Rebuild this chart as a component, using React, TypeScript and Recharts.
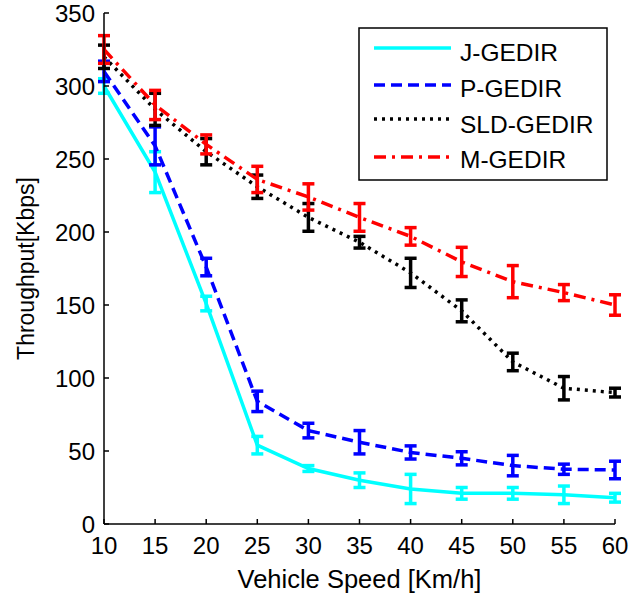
import React from 'react';
import { LineChart, Line, XAxis, YAxis, ErrorBar } from 'recharts';

const speeds = [10, 15, 20, 25, 30, 35, 40, 45, 50, 55, 60];
const jGedir = [300, 241, 151, 54, 38, 30, 24, 21, 21, 20, 18];
const jErr = [5, 14, 5, 6, 2, 5, 10, 4, 4, 6, 3];
const pGedir = [310, 259, 176, 84, 64, 56, 49, 45, 40, 37.5, 37];
const pErr = [7, 13, 6, 7, 5, 8, 4.5, 4.5, 7, 3.5, 6];
const sldGedir = [320, 284, 255, 231, 210, 193, 172, 146, 111, 93, 90];
const sldErr = [8, 11, 9, 8, 9.5, 4, 10, 7.5, 6, 8, 3];
const mGedir = [325, 287, 260, 236, 224, 210, 197, 179.5, 166, 158.5, 150];
const mErr = [9.5, 10, 6.5, 9, 9, 9.5, 6, 10, 11, 5.5, 7];

const xTicks = [10, 15, 20, 25, 30, 35, 40, 45, 50, 55, 60];
const yTicks = [0, 50, 100, 150, 200, 250, 300, 350];

const seriesNames = ['J-GEDIR', 'P-GEDIR', 'SLD-GEDIR', 'M-GEDIR'];
const seriesColors = ['#00ffff', '#0000ff', '#000000', '#ff0000'];
const seriesDash = ['', '11 6', '3 5', '12 6 3 6'];

const data = speeds.map((s, i) => ({
  speed: s,
  j: jGedir[i], jE: jErr[i],
  p: pGedir[i], pE: pErr[i],
  s: sldGedir[i], sE: sldErr[i],
  m: mGedir[i], mE: mErr[i],
}));

const keys = [['j', 'jE'], ['p', 'pE'], ['s', 'sE'], ['m', 'mE']];

const FONT = '"Liberation Sans", Arial, Helvetica, sans-serif';
const axisStyle = { stroke: '#000', strokeWidth: 1.5 };
const tickStyle = { fill: '#000', fontSize: 24, fontFamily: FONT };
const Empty = () => <g />;

const YLabel = (props: any) => {
  const vb = props.viewBox || { x: 0, y: 13, width: 104, height: 511 };
  const x = 26;
  const y = vb.y + vb.height / 2;
  return (
    <text x={x} y={y} transform={`rotate(-90, ${x}, ${y})`} textAnchor="middle" dominantBaseline="central"
      fontSize={23} fontFamily={FONT} fill="#000">Throughput[Kbps]</text>
  );
};

const LegendBox = () => {
  const rowsLine = [21, 58, 92, 130];
  const rowsText = [34, 70, 106, 141];
  return (
    <svg width={250} height={155} style={{ position: 'absolute', left: 358, top: 27 }}>
      <rect x={1} y={1} width={248} height={152} fill="#fff" stroke="#000" strokeWidth={1.5} />
      {seriesNames.map((n, i) => (
        <g key={n}>
          <line x1={16} x2={93} y1={rowsLine[i]} y2={rowsLine[i]} stroke={seriesColors[i]} strokeWidth={3.5}
            strokeDasharray={seriesDash[i] || undefined} />
          <text x={102} y={rowsText[i]} fontSize={24.5} fontFamily={FONT} fill="#000">{n}</text>
        </g>
      ))}
    </svg>
  );
};

export default function App() {
  return (
    <div style={{ position: 'absolute', left: 0, top: 0, width: 630, height: 596 }}>
      <LineChart width={630} height={596} data={data} margin={{ top: 13, right: 15, bottom: 0, left: 0 }}>
        <XAxis dataKey="speed" type="number" domain={[10, 60]} ticks={xTicks} interval={0}
          height={72} axisLine={axisStyle} tickLine={axisStyle} tickSize={-5} tickMargin={18}
          tick={tickStyle}
          label={{ value: 'Vehicle Speed [Km/h]', position: 'insideBottom', offset: 8, fontSize: 25.5, fontFamily: FONT, fill: '#000' }} />
        <XAxis xAxisId="top" orientation="top" type="number" domain={[10, 60]} ticks={xTicks} interval={0}
          height={0} axisLine={axisStyle} tickLine={axisStyle} tickSize={-5} tick={<Empty />} />
        <YAxis type="number" domain={[0, 350]} ticks={yTicks} interval={0} width={104}
          axisLine={axisStyle} tickLine={axisStyle} tickSize={-5} tickMargin={14} tick={tickStyle}
          label={<YLabel />} />
        <YAxis yAxisId="right" orientation="right" type="number" domain={[0, 350]} ticks={yTicks} interval={0}
          width={0} axisLine={axisStyle} tickLine={axisStyle} tickSize={-5} tick={<Empty />} />
        {keys.map(([k, e], i) => (
          <Line key={k} dataKey={k} name={seriesNames[i]} stroke={seriesColors[i]} strokeWidth={3.5}
            strokeDasharray={seriesDash[i] || undefined} dot={false} activeDot={false}
            isAnimationActive={false} type="linear">
            <ErrorBar dataKey={e} width={6} stroke={seriesColors[i]} strokeWidth={3.5} direction="y" />
          </Line>
        ))}
      </LineChart>
      <LegendBox />
    </div>
  );
}
